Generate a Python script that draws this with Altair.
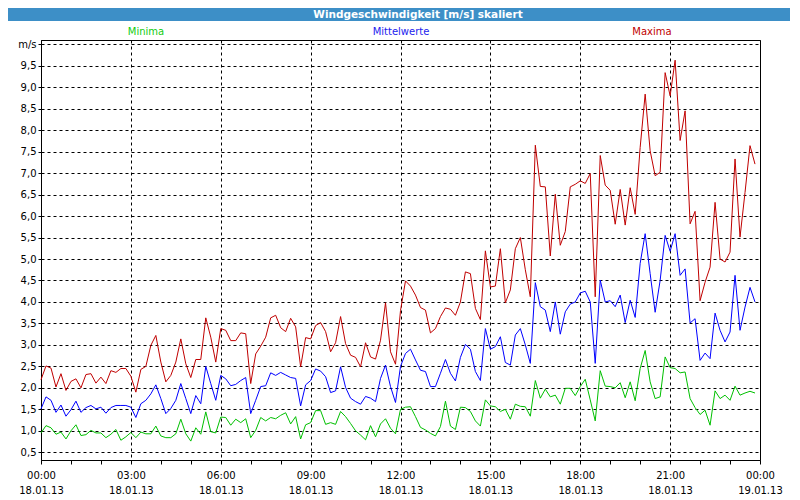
import altair as alt
import pandas as pd

# --- data (10-minute values, 18.01.13 00:00 - 23:50) ---
minima = [0.95, 1.12, 1.07, 0.92, 0.97, 0.81, 1.00, 1.14, 0.89, 0.91, 1.01, 0.95, 0.95, 0.84, 0.92, 1.03, 0.78, 0.86, 0.96, 0.84, 0.97, 0.93, 0.93, 1.11, 0.88,
          0.84, 0.84, 0.93, 1.27, 0.93, 0.76, 1.07, 0.92, 1.44, 0.98, 0.95, 1.32, 1.31, 1.13, 1.27, 1.19, 1.28, 0.84, 1.01, 1.31, 1.23, 1.31, 1.28, 1.36,
          1.42, 1.16, 1.33, 0.81, 1.14, 1.19, 1.47, 1.47, 1.15, 1.19, 1.15, 1.45, 1.33, 1.17, 1.00, 0.90, 0.79, 1.12, 0.86, 1.16, 1.28, 1.06, 0.93, 1.50,
          1.55, 1.56, 1.33, 1.08, 1.02, 0.94, 0.88, 1.10, 1.69, 1.11, 1.03, 1.55, 1.54, 1.45, 1.23, 1.11, 1.72, 1.58, 1.56, 1.45, 1.50, 1.27, 1.62, 1.57,
          1.56, 1.34, 2.17, 1.76, 1.97, 1.79, 1.83, 1.62, 1.99, 1.99, 1.82, 2.03, 2.20, 1.72, 1.23, 2.40, 2.04, 2.03, 2.00, 2.12, 1.77, 2.14, 1.70, 2.45,
          2.87, 2.14, 1.75, 1.79, 2.72, 2.47, 2.45, 2.35, 2.37, 1.75, 1.54, 1.38, 1.48, 1.13, 1.93, 1.75, 1.83, 1.71, 2.04, 1.83, 1.88, 1.92, 1.88]

mittelwerte = [1.51, 1.79, 1.71, 1.43, 1.60, 1.34, 1.49, 1.69, 1.43, 1.54, 1.59, 1.51, 1.55, 1.41, 1.54, 1.59, 1.59, 1.59, 1.55, 1.31, 1.63, 1.71, 1.86, 2.07, 1.75,
               1.40, 1.52, 1.71, 2.10, 1.75, 1.40, 1.82, 1.63, 2.50, 2.10, 1.71, 2.29, 2.21, 2.05, 2.08, 2.17, 2.24, 1.40, 1.71, 2.03, 2.05, 2.35, 2.29, 2.36,
               2.30, 2.24, 2.22, 1.58, 2.07, 2.17, 2.44, 2.39, 2.26, 1.89, 1.93, 2.49, 2.01, 1.76, 1.68, 1.62, 1.80, 1.76, 1.68, 2.22, 2.53, 2.03, 1.66, 2.50,
               2.80, 2.90, 2.65, 2.41, 2.38, 2.03, 2.03, 2.34, 2.66, 2.34, 2.16, 2.71, 3.01, 2.90, 2.38, 2.17, 3.38, 2.90, 2.96, 3.19, 2.59, 2.53, 3.23, 3.38,
               3.00, 2.57, 4.45, 3.89, 3.81, 3.31, 4.00, 3.25, 3.77, 3.95, 4.00, 4.21, 4.25, 4.00, 2.57, 4.51, 4.00, 4.03, 3.89, 4.16, 3.52, 4.04, 3.64, 4.90,
               5.59, 4.66, 3.76, 4.50, 5.55, 5.18, 5.59, 4.62, 4.77, 3.51, 3.61, 2.64, 2.81, 2.68, 3.74, 3.34, 3.07, 3.30, 4.62, 3.34, 3.88, 4.34, 4.00]

maxima = [2.19, 2.51, 2.46, 2.02, 2.33, 1.94, 2.15, 2.21, 2.00, 2.31, 2.33, 2.11, 2.25, 2.10, 2.40, 2.36, 2.45, 2.45, 2.27, 1.90, 2.43, 2.50, 2.99, 3.22, 2.60,
          2.14, 2.29, 2.60, 3.14, 2.56, 2.24, 2.66, 2.66, 3.63, 3.18, 2.60, 3.38, 3.34, 3.10, 3.10, 3.28, 3.26, 2.10, 2.79, 2.97, 3.18, 3.63, 3.69, 3.40,
          3.31, 3.62, 3.42, 2.49, 3.17, 3.14, 3.45, 3.52, 3.31, 2.84, 3.05, 3.66, 3.03, 2.76, 2.71, 2.49, 3.05, 2.72, 2.67, 3.11, 3.98, 2.84, 2.55, 3.80,
          4.49, 4.37, 4.16, 3.87, 3.81, 3.28, 3.38, 3.66, 3.86, 3.83, 3.69, 4.00, 4.70, 4.66, 3.85, 3.59, 5.19, 4.35, 4.37, 5.24, 3.98, 4.28, 5.24, 5.50,
          4.75, 4.12, 7.65, 6.69, 6.68, 5.07, 6.51, 5.32, 5.64, 6.68, 6.74, 6.82, 6.76, 6.99, 4.12, 7.41, 6.72, 6.60, 5.81, 6.62, 5.79, 6.66, 6.04, 7.60,
          8.84, 7.52, 6.94, 7.02, 9.34, 8.80, 9.63, 7.76, 8.45, 5.82, 6.11, 4.03, 4.46, 4.81, 6.32, 5.00, 4.93, 5.16, 7.33, 5.51, 6.55, 7.64, 7.21]

stunden = [i / 6 for i in range(len(maxima))]          # hours since 18.01.13 00:00
serien = ["Minima", "Mittelwerte", "Maxima"]
linienfarben = ["#00c000", "#0000ff", "#c00000"]
legendenfarben = ["#11cc11", "#2222ee", "#c00000"]
titel = "Windgeschwindigkeit [m/s] skaliert"
x_ticks = list(range(0, 25))
y_ticks = [v / 2 for v in range(1, 21)]

df = pd.concat([
    pd.DataFrame({"h": stunden, "wert": minima, "serie": "Minima", "o": 0}),
    pd.DataFrame({"h": stunden, "wert": mittelwerte, "serie": "Mittelwerte", "o": 1}),
    pd.DataFrame({"h": stunden, "wert": maxima, "serie": "Maxima", "o": 2}),
])

FONT = "DejaVu Sans"

x_label_expr = ("datum.value % 3 != 0 ? '' : "
                "[(datum.value % 24 < 10 ? '0' : '') + (datum.value % 24) + ':00', "
                "datum.value >= 24 ? '19.01.13' : '18.01.13']")
y_label_expr = "datum.value >= 9.99 ? 'm/s' : replace(format(datum.value, '.1f'), '.', ',')"

lines = alt.Chart(df).mark_line(strokeWidth=1, interpolate="linear").encode(
    x=alt.X("h:Q",
            scale=alt.Scale(domain=[0, 24], nice=False, zero=False),
            axis=alt.Axis(values=x_ticks, title=None, labelExpr=x_label_expr,
                          grid=True, gridDash=[3, 3], gridColor="#000000",
                          gridOpacity={"condition": {"test": "datum.value % 3 == 0", "value": 1}, "value": 0},
                          tickSize=4, tickColor="#000000", domainColor="#000000",
                          labelPadding=6, labelLineHeight=15, labelFontSize=10,
                          labelFont=FONT, labelColor="#000000", labelFlush=False,
                          labelOverlap=False, labelBaseline="top")),
    y=alt.Y("wert:Q",
            scale=alt.Scale(domain=[0.32, 10.1], nice=False, zero=False),
            axis=alt.Axis(values=y_ticks, title=None, labelExpr=y_label_expr,
                          grid=True, gridDash=[3, 3], gridColor="#000000",
                          tickSize=3, tickColor="#000000", domainColor="#000000",
                          labelPadding=2, labelFontSize=10, labelFont=FONT,
                          labelColor="#000000", labelFlush=False, labelOverlap=False)),
    color=alt.Color("serie:N", scale=alt.Scale(domain=serien, range=linienfarben), legend=None),
    detail="serie:N",
    order="o:Q",
)

title_bar = alt.Chart(pd.DataFrame({"t": [titel]})).mark_rect(color="#3d8fc7").encode(
    x=alt.value(-33), x2=alt.value(751), y=alt.value(-32), y2=alt.value(-19)
)
title_text = alt.Chart(pd.DataFrame({"t": [titel]})).mark_text(
    color="#ffffff", fontWeight="bold", fontSize=10.5, font=FONT, baseline="middle", align="center"
).encode(text="t:N", x=alt.value(377), y=alt.value(-25.5))

legend_x = [105, 360, 611]
legend_layers = []
for name, farbe, px in zip(serien, legendenfarben, legend_x):
    legend_layers.append(
        alt.Chart(pd.DataFrame({"n": [name]})).mark_text(
            color=farbe, fontSize=10, font=FONT, baseline="middle", align="center"
        ).encode(text="n:N", x=alt.value(px), y=alt.value(-8))
    )

chart = alt.layer(lines, title_bar, title_text, *legend_layers).properties(
    width=719, height=420,
    autosize=alt.AutoSizeParams(type="none"),
    padding={"left": 33, "top": 32, "right": 30, "bottom": 36},
    background="#ffffff",
).configure_view(stroke="#000000", strokeWidth=1)

chart.save("out.html", embed_options={"renderer": "svg", "actions": False})
